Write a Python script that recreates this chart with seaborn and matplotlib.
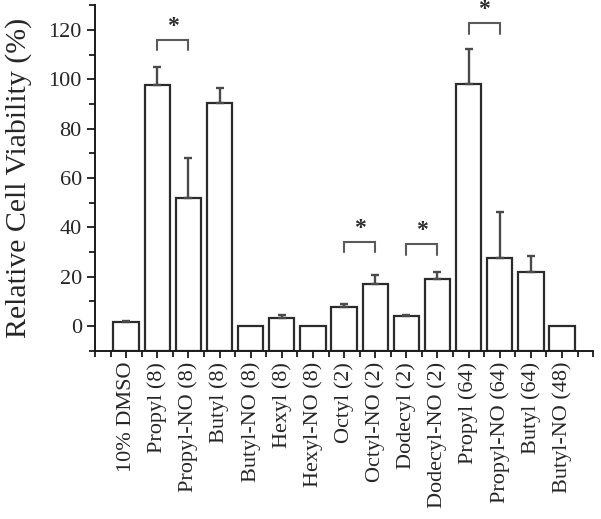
import numpy as np
import pandas as pd
import seaborn as sns
import matplotlib
matplotlib.use("Agg")
import matplotlib.pyplot as plt
from matplotlib.ticker import MultipleLocator, FixedLocator

# ----------------------------
# Data
# ----------------------------
labels = ["10% DMSO", "Propyl (8)", "Propyl-NO (8)", "Butyl (8)", "Butyl-NO (8)",
          "Hexyl (8)", "Hexyl-NO (8)", "Octyl (2)", "Octyl-NO (2)", "Dodecyl (2)",
          "Dodecyl-NO (2)", "Propyl (64)", "Propyl-NO (64)", "Butyl (64)", "Butyl-NO (48)"]
viability = [1.5, 97.5, 52.0, 90.5, 0.0, 3.5, 0.0, 7.9, 16.9, 4.1, 19.2, 98.0, 27.7, 22.0, 0.0]
err_up = [0.5, 7.5, 16.0, 6.0, 0.0, 1.0, 0.0, 0.9, 3.8, 0.4, 2.6, 14.2, 18.6, 6.4, 0.0]

# significance brackets: (left index, right index, bracket top y)
sig_left = [1, 7, 9, 11]
sig_right = [2, 8, 10, 12]
sig_top = [115.9, 34.2, 33.1, 122.7]

# ----------------------------
# Plot
# ----------------------------
sns.set_style("ticks")
plt.rcParams["font.family"] = ["Liberation Serif", "DejaVu Serif"]

df = pd.DataFrame({"group": labels, "viability": viability, "err": err_up})

fig = plt.figure(figsize=(6.01, 5.19), dpi=100)
ax = fig.add_axes([0.158, 0.324, 0.829, 0.666])

edge = "#2b2b2b"
sns.barplot(data=df, x="group", y="viability", color="white", saturation=1,
            edgecolor=edge, linewidth=1.6, width=0.81, errorbar=None, ax=ax)

# bars in the original rise from the bottom of the axis frame
ymin = -10
for p in ax.patches:
    top = p.get_y() + p.get_height()
    p.set_y(ymin)
    p.set_height(top - ymin)

# one-sided error bars
x = np.arange(len(labels))
err = np.asarray(err_up)
mask = err > 0
ax.errorbar(x[mask], np.asarray(viability)[mask],
            yerr=[np.zeros(mask.sum()), err[mask]],
            fmt="none", ecolor="#4a4a4a", elinewidth=1.7, capsize=3, capthick=1.7)

# significance brackets
for a, b, t in zip(sig_left, sig_right, sig_top):
    ax.plot([a, a, b, b], [t - 4.2, t, t, t - 4.2], color="#5a5a5a", lw=1.5,
            solid_joinstyle="miter")
    ax.text((a + b) / 2, t + 1.2, "*", ha="center", va="bottom", fontsize=17,
            fontweight="bold", color="#2b2b2b")

ax.set_xlim(-1, 15)
ax.set_ylim(ymin, 130)
ax.set_xlabel("")
ax.set_ylabel("Relative Cell Viability (%)", fontsize=21.5, labelpad=12)

ax.yaxis.set_major_locator(FixedLocator([0, 20, 40, 60, 80, 100, 120]))
ax.yaxis.set_minor_locator(MultipleLocator(10))
ax.xaxis.set_major_locator(FixedLocator(x))
ax.xaxis.set_minor_locator(MultipleLocator(0.5))
ax.set_xticks(x)
ax.set_xticklabels(labels, rotation=90, fontsize=16)
ax.tick_params(axis="y", labelsize=16)

for s in ["top", "right"]:
    ax.spines[s].set_visible(False)
for s in ["left", "bottom"]:
    ax.spines[s].set_linewidth(1.4)
    ax.spines[s].set_color("#1a1a1a")

ax.tick_params(which="major", direction="out", length=6, width=1.3, color="#1a1a1a")
ax.tick_params(which="minor", direction="out", length=4, width=1.3, color="#1a1a1a")
ax.tick_params(axis="x", which="major", length=5, pad=3)

fig.savefig("out.png", dpi=100)
